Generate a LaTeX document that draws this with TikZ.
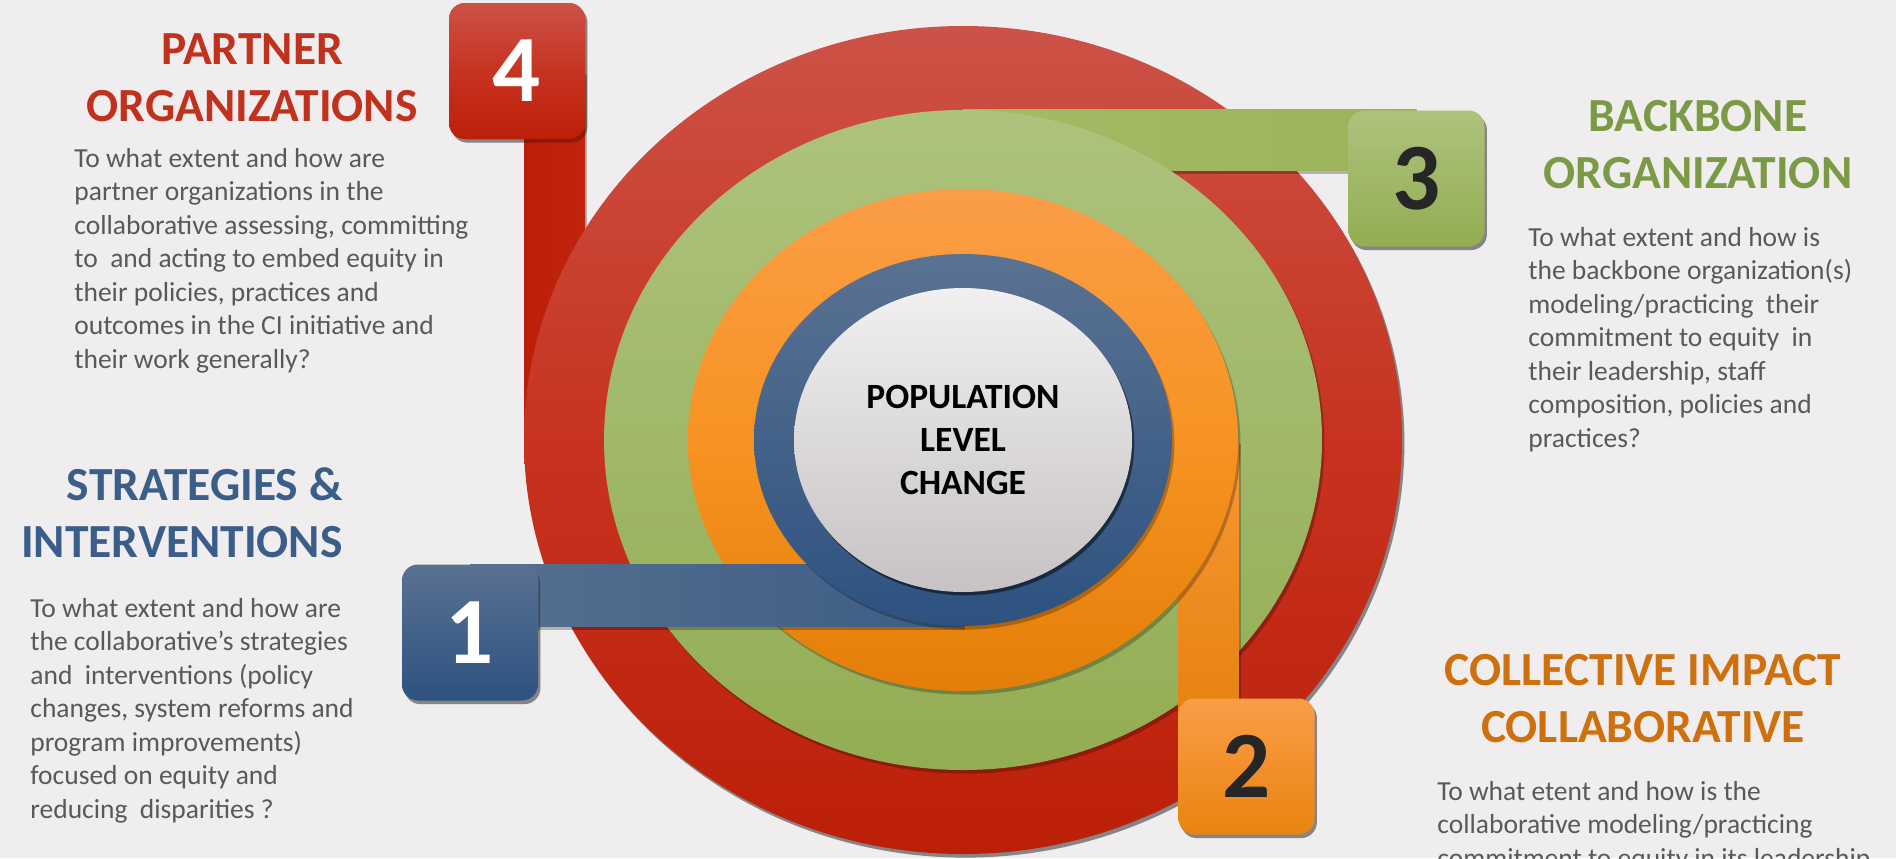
\documentclass[tikz,border=0pt]{standalone}
\usepackage{fontspec}
\setmainfont{Carlito}
\usetikzlibrary{shapes.geometric,shadows,calc}
\definecolor{bg}{HTML}{EFEDEE}
\definecolor{bodygrey}{HTML}{595959}
\definecolor{partnerred}{HTML}{C0311E}
\definecolor{stratblue}{HTML}{3A5D89}
\definecolor{backgreen}{HTML}{7A9A45}
\definecolor{collorange}{HTML}{CD700D}
\definecolor{digitdark}{HTML}{262626}
% ring colours
\definecolor{redT}{HTML}{CC5247}\definecolor{redM}{HTML}{C73320}\definecolor{redB}{HTML}{BC1F08}
\definecolor{redBar}{HTML}{C0240D}
\definecolor{grnT}{HTML}{ADC37D}\definecolor{grnB}{HTML}{93AD53}
\definecolor{grnBarL}{HTML}{A4BB65}\definecolor{grnBarR}{HTML}{9BB35A}
\definecolor{orgT}{HTML}{FA9D47}\definecolor{orgM}{HTML}{F79322}\definecolor{orgB}{HTML}{E37E08}
\definecolor{orgBar}{HTML}{F6911C}
\definecolor{bluT}{HTML}{5A7292}\definecolor{bluB}{HTML}{2D5280}
\definecolor{bluBarL}{HTML}{56708F}\definecolor{bluBarR}{HTML}{3D5D86}
\definecolor{wT}{HTML}{F1EFF0}\definecolor{wB}{HTML}{C7C3C5}
\begin{document}
\begin{tikzpicture}[x=0.5pt,y=-0.5pt,
  shad/.style={drop shadow={shadow xshift=1.2pt,shadow yshift=-1.8pt,opacity=0.25,fill=black}},
  ring/.style={ellipse,inner sep=0pt,outer sep=0pt,shad},
  tabbox/.style={rectangle,rounded corners=8pt,minimum size=68pt,inner sep=0pt,outer sep=0pt,
     font=\fontsize{47.5}{50}\selectfont\bfseries,shad},
  title/.style={font=\fontsize{23.75}{28.5}\selectfont\bfseries,inner sep=0pt},
  body/.style={font=\fontsize{13.75}{16.75}\selectfont,text=bodygrey,inner sep=0pt,align=left,anchor=base west},
  corelabel/.style={font=\fontsize{17.75}{21.3}\selectfont\bfseries,align=center,text=black}
]
\useasboundingbox (0,0) rectangle (1896,858);
\clip (0,0) rectangle (1896,858);
\fill[bg] (0,0) rectangle (1896,858);

% ---- ring 4 (red) ----
\coordinate (c) at (963,440);
\node[tabbox,top color=redT,bottom color=redB,middle color=redM,text=white] (t4) at (517,71) {};
\node[ring,minimum width=439pt,minimum height=414pt] (red) at (c) {};
\shade[shad,left color=redB,right color=redBar] (red.west |- t4.center) rectangle (t4.east |- red.west);
\node[ring,minimum width=439pt,minimum height=414pt,top color=redT,bottom color=redB,middle color=redM] (red) at (c) {};
\node[tabbox,top color=redT,bottom color=redB,middle color=redM,text=white] (t4) at (517,71) {4};

% ---- ring 3 (green) ----
\node[tabbox] (t3) at (1416.5,178.5) {};
\node[ellipse,inner sep=0pt,minimum width=359pt,minimum height=330pt] (green) at (c) {};
\shade[shad,left color=grnBarL,right color=grnBarR] (green.north) rectangle ($(t3.north)+(0,60)$);
\node[ring,minimum width=359pt,minimum height=330pt,top color=grnT,bottom color=grnB] (green) at (c) {};
\node[tabbox,top color=grnT,bottom color=grnB,text=digitdark] (t3) at (1416.5,178.5) {3};

% ---- ring 2 (orange) ----
\node[ellipse,inner sep=0pt,minimum width=275pt,minimum height=251pt] (orange) at (c) {};
\node[tabbox] (t2) at (1246.5,766.5) {};
\shade[shad,top color=orgT!60!orgBar,bottom color=orgB] (orange.east) rectangle (t2.center -| t2.west);
\node[ring,minimum width=275pt,minimum height=251pt,top color=orgT,bottom color=orgB,middle color=orgM] (orange) at (c) {};
\node[tabbox,top color=orgT,bottom color=orgB!70!orgM,text=digitdark] (t2) at (1246.5,766.5) {2};

% ---- ring 1 (blue) ----
\node[ellipse,inner sep=0pt,minimum width=209pt,minimum height=186pt] (blue) at (c) {};
\node[tabbox] (t1) at (470,632.5) {};
\shade[shad,left color=bluBarL,right color=bluBarR] (t1.north) rectangle (blue.south);
\node[ring,minimum width=209pt,minimum height=186pt,top color=bluT,bottom color=bluB] (blue) at (c) {};
\node[tabbox,top color=bluT,bottom color=bluB,text=white] (t1) at (470,632.5) {1};

% ---- core ----
\node[ring,minimum width=169pt,minimum height=152pt,top color=wT,bottom color=wB,
      drop shadow={shadow xshift=1pt,shadow yshift=-1.5pt,opacity=0.35,fill=black}] (core) at (c) {};
\node[corelabel] (corelbl) at (c) {POPULATION\\LEVEL\\CHANGE};

% ---- titles (anchored on the baseline of their last line) ----
\node[title,text=partnerred,align=center,anchor=base] (tp) at (252,121) {PARTNER\\ORGANIZATIONS};
\node[title,text=stratblue,align=right,anchor=base east] (ts) at (343,557) {STRATEGIES \&\\INTERVENTIONS};
\node[title,text=backgreen,align=center,anchor=base] (tb) at (1698,188) {BACKBONE\\ORGANIZATION};
\node[title,text=collorange,align=center,anchor=base] (tc) at (1643,742) {COLLECTIVE IMPACT\\COLLABORATIVE};

% ---- body texts (anchored on the baseline of their last line) ----
\node[body] (bp) at (74,368) {To what extent and how are\\partner organizations in the\\collaborative assessing, committing\\to\ \ and acting to embed equity in\\their policies, practices and\\outcomes in the CI initiative and\\their work generally?};
\node[body] (bs) at (30,818) {To what extent and how are\\the collaborative’s strategies\\and\ \ interventions (policy\\changes, system reforms and\\program improvements)\\focused on equity and\\reducing\ \ disparities ?};
\node[body] (bb) at (1528,447) {To what extent and how is\\the backbone organization(s)\\modeling/practicing\ \ their\\commitment to equity\ \ in\\their leadership, staff\\composition, policies and\\practices?};
\node[body] (bc) at (1437,867) {To what etent and how is the\\collaborative modeling/practicing\\commitment to equity in its leadership};
\end{tikzpicture}
\end{document}
